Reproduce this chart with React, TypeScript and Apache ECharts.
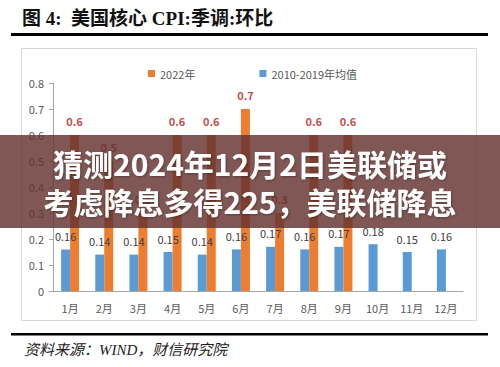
import React, { useEffect, useRef } from "react";
import * as echarts from "echarts";

const months = ["1月", "2月", "3月", "4月", "5月", "6月", "7月", "8月", "9月", "10月", "11月", "12月"];
const avgValues = [0.16, 0.14, 0.14, 0.15, 0.14, 0.16, 0.17, 0.16, 0.17, 0.18, 0.15, 0.16];
const y2022Values: (number | null)[] = [0.6, 0.5, 0.3, 0.6, 0.6, 0.7, 0.3, 0.6, 0.6, null, null, null];
const seriesNames = ["2022年", "2010-2019年均值"];
const titleText = "图 4:  美国核心 CPI:季调:环比";
const sourceText = "资料来源：WIND，财信研究院";
const bannerLines = ["猜测2024年12月2日美联储或", "考虑降息多得225，美联储降息"];

export default function App() {
  const ref = useRef<HTMLDivElement>(null);
  useEffect(() => {
    if (!ref.current) return;
    const chart = echarts.init(ref.current, null, { renderer: "svg" });
    const cjk = '"Noto Sans CJK SC", "Noto Sans", sans-serif';
    const serif = '"Liberation Serif", "Noto Sans CJK SC", serif';
    chart.setOption({
      animation: false,
      backgroundColor: "#ffffff",
      textStyle: { fontFamily: cjk },
      legend: {
        data: seriesNames,
        top: 63,
        left: 143,
        itemWidth: 7,
        itemHeight: 7,
        itemGap: 64,
        icon: "rect",
        textStyle: { fontSize: 11, color: "#595959", fontFamily: cjk },
      },
      grid: { left: 53, right: 37, top: 83, bottom: 76 },
      xAxis: {
        type: "category",
        data: months,
        axisLine: { lineStyle: { color: "#a6a6a6", width: 1 } },
        axisTick: { show: false },
        axisLabel: { color: "#595959", fontSize: 11, margin: 11 },
      },
      yAxis: {
        type: "value",
        min: 0,
        max: 0.8,
        interval: 0.1,
        axisLine: { show: true, lineStyle: { color: "#a6a6a6" } },
        axisTick: { show: true, length: 4, lineStyle: { color: "#a6a6a6" } },
        splitLine: { show: false },
        axisLabel: {
          color: "#595959",
          fontSize: 11,
          margin: 9,
          formatter: (v: number) => (v === 0 ? "0" : v.toFixed(1)),
        },
      },
      series: [
        {
          name: seriesNames[1],
          type: "bar",
          data: avgValues,
          barWidth: 9,
          barGap: "0%",
          itemStyle: { color: "#5b9bd5" },
          label: { show: true, position: "top", distance: 8, color: "#404040", fontSize: 11 },
        },
        {
          name: seriesNames[0],
          type: "bar",
          data: y2022Values,
          barWidth: 9,
          barGap: "0%",
          itemStyle: { color: "#ed7d31" },
          label: {
            show: true,
            position: "top",
            distance: 9,
            color: "#c0504d",
            fontSize: 11,
            fontWeight: "bold",
          },
        },
      ],
      graphic: [
        {
          type: "text",
          left: 22,
          top: 9,
          z: 10,
          style: {
            text: titleText,
            fontSize: 19,
            fontWeight: "bold",
            fill: "#111111",
            fontFamily: serif,
          },
        },
        {
          type: "rect",
          z: 10,
          shape: { x: 11, y: 33, width: 477, height: 3 },
          style: { fill: "#000000" },
        },
        {
          type: "rect",
          z: -1,
          shape: { x: 21.5, y: 48.5, width: 455, height: 272 },
          style: { fill: "none", stroke: "#d9d9d9", lineWidth: 1 },
        },
        {
          type: "rect",
          z: 10,
          shape: { x: 11, y: 333, width: 477, height: 2.5 },
          style: { fill: "#000000" },
        },
        {
          type: "text",
          left: 24,
          top: 342,
          z: 10,
          style: {
            text: sourceText,
            fontSize: 15,
            fontStyle: "italic",
            fill: "#222222",
            fontFamily: serif,
          },
        },
        {
          type: "rect",
          z: 100,
          shape: { x: 0, y: 135, width: 500, height: 93 },
          style: { fill: "rgba(100,50,47,0.82)" },
        },
        {
          type: "text",
          z: 101,
          x: 250,
          y: 163,
          style: {
            text: bannerLines[0],
            fontSize: 30,
            fontWeight: "bold",
            fill: "#ffffff",
            align: "center",
            verticalAlign: "middle",
            fontFamily: cjk,
            textShadowColor: "rgba(0,0,0,0.3)",
            textShadowBlur: 2,
            textShadowOffsetX: 1,
            textShadowOffsetY: 1,
          },
        },
        {
          type: "text",
          z: 101,
          x: 250,
          y: 201,
          style: {
            text: bannerLines[1],
            fontSize: 30,
            fontWeight: "bold",
            fill: "#ffffff",
            align: "center",
            verticalAlign: "middle",
            fontFamily: cjk,
            textShadowColor: "rgba(0,0,0,0.3)",
            textShadowBlur: 2,
            textShadowOffsetX: 1,
            textShadowOffsetY: 1,
          },
        },
      ],
    });
    return () => chart.dispose();
  }, []);
  return (
    <div
      ref={ref}
      style={{ position: "absolute", left: 0, top: 0, width: 500, height: 367 }}
    />
  );
}
